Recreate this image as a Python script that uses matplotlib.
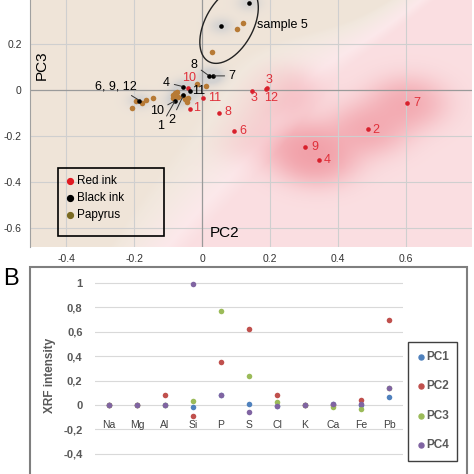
import numpy as np
import matplotlib
matplotlib.use("Agg")
import matplotlib.pyplot as plt
from matplotlib.patches import Rectangle
from matplotlib.lines import Line2D

plt.rcParams['font.family'] = ['Liberation Sans', 'DejaVu Sans']

# ---------------- panel A data (PC2 / PC3 scores) ----------------
red_x = [-0.035, 0.489, 0.148, 0.190, 0.343, 0.094, 0.604, 0.049, 0.303, -0.042, 0.004, 0.187]
red_y = [-0.083, -0.171, -0.003, 0.010, -0.303, -0.180, -0.058, -0.099, -0.249, 0.007, -0.033, 0.002]
red_labels = ["1", "2", "3", "3", "4", "6", "7", "8", "9", "10", "11", "12"]

black_x = [-0.055, -0.035, -0.055, -0.079, -0.184, 0.021, 0.031, 0.057, 0.139]
black_y = [0.014, -0.003, -0.024, -0.047, -0.046, 0.061, 0.061, 0.280, 0.380]

papyrus_x = [-0.207, -0.177, -0.165, -0.143, -0.194, -0.084, -0.079, -0.074, -0.086,
             -0.070, -0.055, -0.050, -0.040, -0.045, -0.016, 0.012, 0.029, 0.102, 0.120]
papyrus_y = [-0.077, -0.055, -0.043, -0.036, -0.048, -0.022, -0.014, -0.007, -0.036,
             -0.029, -0.026, -0.040, -0.036, -0.051, 0.026, 0.017, 0.164, 0.264, 0.293]

# ---------------- panel B data (XRF loadings) ----------------
elements = ["Na", "Mg", "Al", "Si", "P", "S", "Cl", "K", "Ca", "Fe", "Pb"]
pc1 = [0, 0, 0, -0.02, 0.08, 0.005, -0.01, 0, 0.01, 0.0, 0.068]
pc2 = [0, 0, 0.085, -0.09, 0.35, 0.62, 0.085, 0, 0, 0.04, 0.70]
pc3 = [0, 0, 0, 0.033, 0.77, 0.24, 0.027, 0, -0.015, -0.03, 0.137]
pc4 = [0, 0.003, 0, 0.99, 0.082, -0.06, -0.01, 0, 0.01, 0.005, 0.137]

W, H = 474, 474
fig = plt.figure(figsize=(W / 100, H / 100), dpi=100)

# ================= panel A =================
axA = fig.add_axes([30 / W, 1 - 247 / H, 442 / W, 247 / H])
xmin, xmax, ymin, ymax = -0.506, 0.794, -0.683, 0.391
axA.set_xlim(xmin, xmax)
axA.set_ylim(ymin, ymax)

# background shading derived from the point clouds
gx = np.linspace(xmin, xmax, 400)
gy = np.linspace(ymin, ymax, 300)
X, Y = np.meshgrid(gx, gy)


def gsum(xs, ys, s):
    out = np.zeros_like(X)
    for a, b in zip(xs, ys):
        out += np.exp(-((X - a) ** 2 + (Y - b) ** 2) / (2 * s * s))
    return out


Db = gsum(papyrus_x + black_x, papyrus_y + black_y, 0.15) + 1e-300
Dr = gsum(red_x, red_y, 0.15) + 1e-300
rb = Db / (Db + Dr)
rr = 1 - rb
w_b = np.clip((rb - 0.35) / 0.4, 0, 1) * 0.95
loc = gsum(red_x, red_y, 0.07)
w_r = np.clip((rr - 0.3) / 0.5, 0, 1) * (0.18 + 0.38 * (1 - np.exp(-1.3 * loc)))
w_g = np.clip(0.45 * gsum(black_x, black_y, 0.025), 0, 0.45)

img = np.ones(X.shape + (3,))
beige = np.array([0.935, 0.890, 0.842])
redc = np.array([0.90, 0.30, 0.36])
grayc = np.array([0.70, 0.74, 0.79])
for w, c in ((w_b, beige), (w_r, redc), (w_g, grayc)):
    img = img * (1 - w[..., None]) + c * w[..., None]
axA.imshow(img, extent=(xmin, xmax, ymin, ymax), origin='lower', aspect='auto', zorder=0)

for v in [-0.4, -0.2, 0.2, 0.4, 0.6]:
    axA.axvline(v, color='#cfcfcf', lw=0.8, zorder=1)
for v in [0.2, -0.2, -0.4, -0.6]:
    axA.axhline(v, color='#cfcfcf', lw=0.8, zorder=1)
axA.axvline(0, color='#9a9a9a', lw=0.9, zorder=1)
axA.axhline(0, color='#9a9a9a', lw=0.9, zorder=1)

for s in ['top', 'right', 'bottom']:
    axA.spines[s].set_visible(False)
axA.spines['left'].set_color('#a0a0a0')
axA.set_xticks([-0.4, -0.2, 0, 0.2, 0.4, 0.6])
axA.set_xticklabels(["-0.4", "-0.2", "0", "0.2", "0.4", "0.6"])
axA.set_yticks([0.2, 0, -0.2, -0.4, -0.6])
axA.set_yticklabels(["0.2", "0", "-0.2", "-0.4", "-0.6"])
axA.tick_params(length=0, labelsize=7.5, colors='#333333', pad=5)
axA.tick_params(axis='y', pad=6)

papyrus_col = '#b77a35'
axA.scatter(papyrus_x, papyrus_y, s=16, color=papyrus_col, zorder=3, linewidths=0)
axA.scatter(red_x, red_y, s=11, color='#d8202c', zorder=4, linewidths=0)
axA.scatter(black_x, black_y, s=11, color='black', zorder=5, linewidths=0)

red_text = '#e0303a'
red_lab_pos = [(-0.016, -0.080), (0.511, -0.174), (0.154, -0.036), (0.198, 0.043),
               (0.369, -0.304), (0.121, -0.180), (0.632, -0.058), (0.076, -0.097),
               (0.332, -0.249), (-0.037, 0.051), (0.038, -0.033), (0.203, -0.036)]
for lab, (tx, ty) in zip(red_labels, red_lab_pos):
    axA.text(tx, ty, lab, color=red_text, fontsize=9, ha='center', va='center', zorder=6)

lead = dict(arrowstyle='-', color='#333333', lw=0.7, shrinkA=1, shrinkB=1)
black_ann = [("4", 0, (-0.104, 0.032)), ("10", 3, (-0.133, -0.091)),
             ("1", 3, (-0.121, -0.157)), ("2", 2, (-0.089, -0.130)),
             ("6, 9, 12", 4, (-0.253, 0.017)), ("8", 5, (-0.024, 0.109)),
             ("7", 6, (0.089, 0.061))]
for lab, i, pos in black_ann:
    axA.annotate(lab, xy=(black_x[i], black_y[i]), xytext=pos, fontsize=9,
                 ha='center', va='center', arrowprops=lead, zorder=6)
axA.text(-0.011, -0.003, "11", fontsize=9, ha='center', va='center', zorder=6)
axA.text(0.162, 0.283, "sample 5", fontsize=9, ha='left', va='center', zorder=6)

# ellipse round sample 5 (built in pixel space, mapped to data units)
t = np.linspace(0, 2 * np.pi, 200)
th = np.deg2rad(61)
a, b = 42, 24
u, v = a * np.cos(t), b * np.sin(t)
ex = 0.0795 + (u * np.cos(th) - v * np.sin(th)) / 340
ey = 0.283 + (u * np.sin(th) + v * np.cos(th)) / 230
axA.plot(ex, ey, color='#222222', lw=1.0, zorder=5)

axA.text(0.027, 0.737, "PC3", rotation=90, fontsize=11, ha='center', va='center',
         transform=axA.transAxes)
axA.text(0.441, 0.057, "PC2", fontsize=11, ha='center', va='center', transform=axA.transAxes)

# legend A
axA.add_patch(Rectangle((0.063, 0.0445), 0.24, 0.275, transform=axA.transAxes,
                        fill=False, edgecolor='black', lw=1.2, zorder=7))
leg_items = [("Red ink", '#e01a22'), ("Black ink", 'black'), ("Papyrus", '#7a6a22')]
for k, (lab, col) in enumerate(leg_items):
    yy = 0.267 - k * 0.069
    axA.plot([0.091], [yy], 'o', ms=4.2, color=col, transform=axA.transAxes, zorder=8)
    axA.text(0.107, yy, lab, fontsize=8.5, va='center', ha='left',
             transform=axA.transAxes, zorder=8)

# ================= panel B =================
fig.add_artist(Rectangle((30 / W, -0.05), 437 / W, 0.05 + (H - 267) / H,
                         transform=fig.transFigure, fill=False,
                         edgecolor='#7f7f7f', lw=1.5))
fig.text(3 / W, 1 - 279 / H, "B", fontsize=17, ha='left', va='center')

axB = fig.add_axes([95 / W, 0, 308 / W, (H - 276) / H])
axB.set_xlim(-0.5, len(elements) - 0.5)
axB.set_ylim(-0.566, 1.057)
for v in np.arange(-0.6, 1.01, 0.2):
    axB.axhline(v, color='#d9d9d9', lw=0.8, zorder=0)
for sp in axB.spines.values():
    sp.set_visible(False)
axB.set_xticks([])
yt = [1, 0.8, 0.6, 0.4, 0.2, 0, -0.2, -0.4]
axB.set_yticks(yt)
axB.set_yticklabels(["1", "0,8", "0,6", "0,4", "0,2", "0", "-0,2", "-0,4"],
                    fontweight='bold')
axB.tick_params(length=0, labelsize=8, colors='#595959', pad=9)
axB.set_ylabel("XRF intensity", fontsize=8.5, color='#595959', fontweight='bold', labelpad=5)

xs = np.arange(len(elements))
pc_cols = ['#4f81bd', '#c0504d', '#9bbb59', '#8064a2']
for vals, col in zip([pc1, pc2, pc3, pc4], pc_cols):
    axB.scatter(xs, vals, s=16, color=col, zorder=3, linewidths=0)
for i, el in enumerate(elements):
    axB.text(xs[i], -0.164, el, fontsize=7.5, color='#404040', ha='center', va='center')

# legend B
fig.add_artist(Rectangle((408 / W, 1 - 461 / H), 49 / W, 119 / H, transform=fig.transFigure,
                         fill=False, edgecolor='#404040', lw=1.0))
for k, (lab, col) in enumerate(zip(["PC1", "PC2", "PC3", "PC4"], pc_cols)):
    yy = 1 - (357 + k * 29.3) / H
    fig.add_artist(Line2D([421 / W], [yy], marker='o', ms=3.6, color=col,
                          transform=fig.transFigure))
    fig.text(426 / W, yy, lab, fontsize=8.5, fontweight='bold', color='#595959',
             ha='left', va='center')

fig.savefig("out.png", dpi=100)
